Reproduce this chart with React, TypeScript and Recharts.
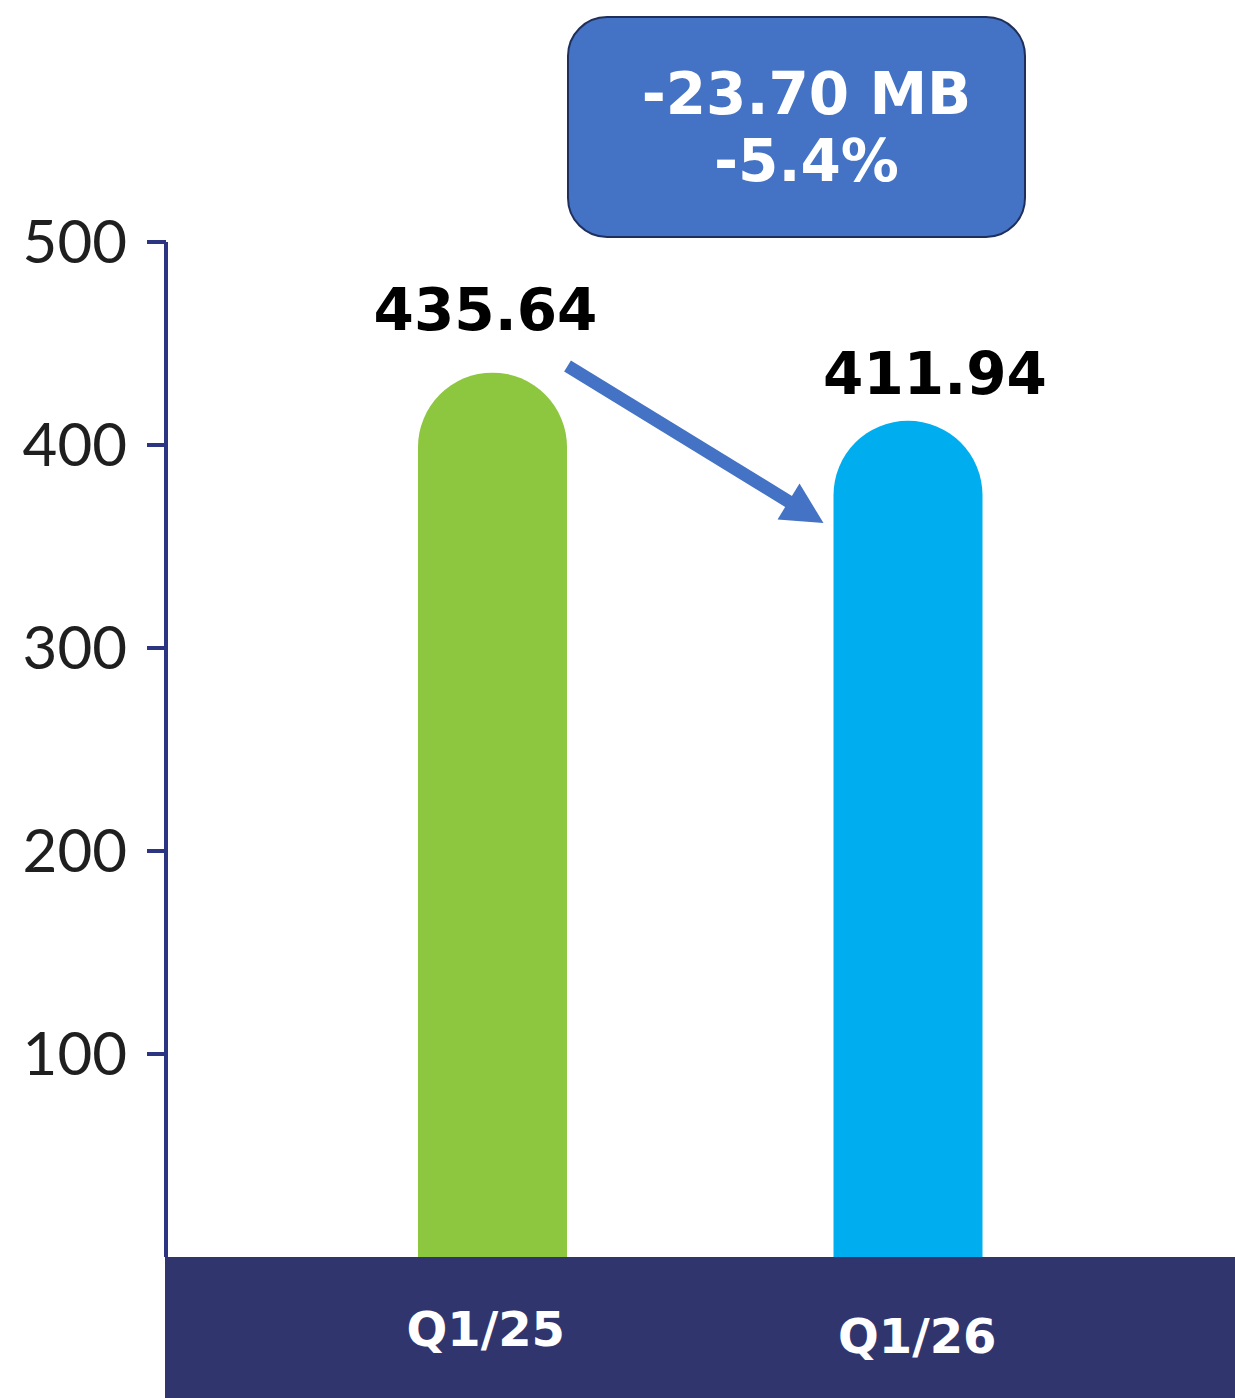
import React from 'react';
import { BarChart, Bar, XAxis, YAxis, Cell, LabelList, ReferenceLine } from 'recharts';

const quarters = ['Q1/25', 'Q1/26'];
const revenue = [435.64, 411.94];
const barColors = ['#8DC63F', '#00AEEF'];
const yTicks = [100, 200, 300, 400, 500];
const changeAmount = '-23.70 MB';
const changePercent = '-5.4%';

// arrow runs between the two bar tops (data units)
const arrowFrom = 461.5;
const arrowTo = 336;

const data = quarters.map((q, i) => ({ quarter: q, value: revenue[i] }));

const W = 1235;
const H = 1398;
const NAVY = '#31356E';
const AXIS = '#2C3582';
const ACCENT = '#4472C4';
const boldFont = '"DejaVu Sans", sans-serif';

// small per-bar nudges for the value labels and tick labels
const labelShift = [{ dx: -7, dy: -43 }, { dx: 27, dy: -27 }];
const tickShift = [{ dx: -7, dy: 0 }, { dx: 9, dy: 7 }];

const ValueLabel = (props: any) => {
  const vb = props.viewBox || {};
  const x = props.x ?? vb.x;
  const y = props.y ?? vb.y;
  const width = props.width ?? vb.width;
  const s = labelShift[props.index] || { dx: 0, dy: -30 };
  return (
    <text
      x={x + width / 2 + s.dx}
      y={y + s.dy}
      textAnchor="middle"
      fontFamily={boldFont}
      fontWeight="bold"
      fontSize={58}
      fill="#000"
    >
      {props.value}
    </text>
  );
};

const QuarterTick = (props: any) => {
  const { x, y, payload, index } = props;
  const s = tickShift[index] || { dx: 0, dy: 0 };
  return (
    <text
      x={x + s.dx}
      y={y + s.dy}
      dy="0.71em"
      textAnchor="middle"
      fontFamily={boldFont}
      fontWeight="bold"
      fontSize={48}
      fill="#fff"
    >
      {payload.value}
    </text>
  );
};

const Arrow = (props: any) => {
  const { x1, y1, x2, y2 } = props;
  if ([x1, y1, x2, y2].some((v) => v == null || isNaN(v))) return null;
  const t0 = 0.18;
  const t1 = 0.796;
  const sx = x1 + (x2 - x1) * t0;
  const sy = y1 + (y2 - y1) * t0;
  const ex = x1 + (x2 - x1) * t1;
  const ey = y1 + (y2 - y1) * t1;
  const len = Math.hypot(ex - sx, ey - sy);
  const ux = (ex - sx) / len;
  const uy = (ey - sy) / len;
  const head = 41;
  const half = 21;
  const bx = ex - ux * head;
  const by = ey - uy * head;
  const nx = -uy;
  const ny = ux;
  return (
    <g>
      <line x1={sx} y1={sy} x2={bx + ux * 2} y2={by + uy * 2} stroke={ACCENT} strokeWidth={13} />
      <polygon
        points={`${ex},${ey} ${bx + nx * half},${by + ny * half} ${bx - nx * half},${by - ny * half}`}
        fill={ACCENT}
      />
    </g>
  );
};

export default function App() {
  return (
    <div style={{ position: 'absolute', left: 0, top: 0, width: W, height: H, background: '#fff' }}>
      {/* navy band behind the category labels */}
      <div
        style={{
          position: 'absolute',
          left: 165,
          top: 1257,
          width: W - 165,
          height: H - 1257,
          background: NAVY,
        }}
      />
      <BarChart width={W} height={H} data={data} margin={{ top: 242, right: 0, bottom: 0, left: 0 }}>
        <XAxis
          dataKey="quarter"
          height={141}
          axisLine={false}
          tickLine={false}
          tickSize={0}
          tickMargin={55}
          padding={{ left: 119, right: 119 }}
          tick={<QuarterTick />}
        />
        <YAxis
          type="number"
          domain={[0, 500]}
          ticks={yTicks}
          width={166}
          axisLine={{ stroke: AXIS, strokeWidth: 4 }}
          tickLine={{ stroke: AXIS, strokeWidth: 4 }}
          tickSize={19}
          tickMargin={20}
          tick={{ fontFamily: 'Lato, sans-serif', fontSize: 60, fill: '#1f1f1f' }}
        />
        <Bar dataKey="value" barSize={149} radius={[74.5, 74.5, 0, 0]} isAnimationActive={false}>
          {data.map((d, i) => (
            <Cell key={d.quarter} fill={barColors[i]} />
          ))}
          <LabelList dataKey="value" content={<ValueLabel />} />
        </Bar>
        <ReferenceLine
          segment={[
            { x: quarters[0], y: arrowFrom },
            { x: quarters[1], y: arrowTo },
          ]}
          ifOverflow="visible"
          shape={<Arrow />}
        />
      </BarChart>
      <div
        style={{
          position: 'absolute',
          left: 567,
          top: 16,
          width: 459,
          height: 222,
          boxSizing: 'border-box',
          borderRadius: 40,
          background: ACCENT,
          border: '2px solid #1F2F5C',
          color: '#fff',
          fontFamily: boldFont,
          fontWeight: 'bold',
          fontSize: 58,
          lineHeight: '67px',
          textAlign: 'center',
          paddingTop: 43,
          paddingLeft: 20,
        }}
      >
        <div>{changeAmount}</div>
        <div>{changePercent}</div>
      </div>
    </div>
  );
}
